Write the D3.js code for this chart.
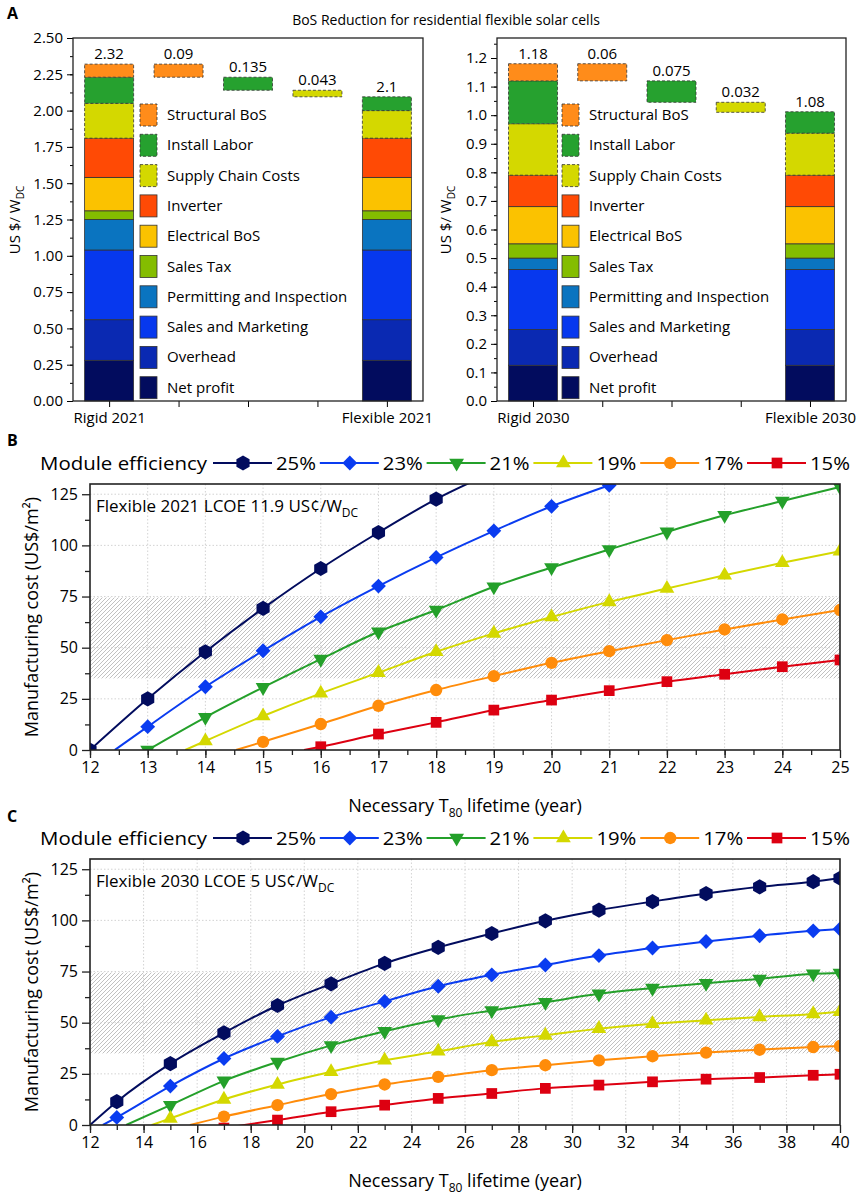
<!DOCTYPE html>
<html>
<head>
<meta charset="utf-8">
<script src="https://cdn.jsdelivr.net/npm/d3@7"></script>
<style>
  body { margin: 0; background: #fff; }
  svg { font-family: "Open Sans", sans-serif; }
</style>
</head>
<body>
<script>
// ---- panel A data ----
var segNames = ["Net profit", "Overhead", "Sales and Marketing", "Permitting and Inspection", "Sales Tax",
                "Electrical BoS", "Inverter", "Supply Chain Costs", "Install Labor", "Structural BoS"];
var segColors = ["#020c5e", "#0a29b2", "#0738ee", "#0a74c0", "#84bd00",
                 "#fbc200", "#ff4a05", "#d4d800", "#26a12f", "#ff8c1a"];
var dashedSegs = ["Supply Chain Costs", "Install Labor", "Structural BoS"];

var cats2021 = ["Rigid 2021", "r1", "r2", "r3", "Flexible 2021"];
var cats2030 = ["Rigid 2030", "s1", "s2", "s3", "Flexible 2030"];

var rigid2021 = [0.28, 0.28, 0.48, 0.21, 0.06, 0.23, 0.27, 0.24, 0.18, 0.09];
var flex2021  = [0.28, 0.28, 0.48, 0.21, 0.06, 0.23, 0.27, 0.19, 0.095, 0];
var drop2021 = [0.09, 0.09, 0.045];           // drawn heights of the reduction bars
var dropLabels2021 = ["0.09", "0.135", "0.043"];
var totalLabels2021 = ["2.32", "2.1"];

var rigid2030 = [0.125, 0.125, 0.21, 0.04, 0.05, 0.13, 0.11, 0.18, 0.15, 0.06];
var flex2030  = [0.125, 0.125, 0.21, 0.04, 0.05, 0.13, 0.11, 0.147, 0.075, 0];
var drop2030 = [0.06, 0.075, 0.035];
var dropLabels2030 = ["0.06", "0.075", "0.032"];
var totalLabels2030 = ["1.18", "1.08"];

// ---- panels B / C data ----
var effNames = ["25%", "23%", "21%", "19%", "17%", "15%"];
var effColors = ["#020c5e", "#0a3cf0", "#24a02a", "#d4d800", "#ff8c0a", "#dd0011"];
var effSymbols = ["hexagon", "diamond", "triangleDown", "triangle", "circle", "square"];
var costBand = [35, 74.5];

var b25 = [[12,0],[13,25],[14,48],[15,69.2],[16,88.7],[17,106.3],[18,122.6],[19,136]];
var b23 = [[12.43,0],[13,11.4],[14,30.9],[15,48.5],[16,65.1],[17,80.1],[18,94.1],[19,107.1],[20,119.1],[21,129.4]];
var b21 = [[13,0],[14,16],[15,30.6],[16,44.4],[17,57.8],[18,68.4],[19,79.8],[20,89.2],[21,98],[22,106.6],[23,114.7],[24,121.7],[25,128.6]];
var b19 = [[13.65,0],[14,4.4],[15,16.6],[16,27.7],[17,37.8],[18,48],[19,57],[20,65],[21,72.4],[22,78.9],[23,85.4],[24,91.5],[25,97.2]];
var b17 = [[14.53,0],[15,4],[16,12.7],[17,21.6],[18,29.3],[19,36.1],[20,42.6],[21,48.3],[22,53.7],[23,58.9],[24,63.8],[25,68.4]];
var b15 = [[15.71,0],[16,1.6],[17,7.8],[18,13.5],[19,19.5],[20,24.4],[21,29],[22,33.4],[23,37],[24,40.7],[25,44]];

var c25 = [[12,0],[13,11.4],[15,30],[17,45],[19,58.4],[21,69],[23,79],[25,86.8],[27,93.6],[29,99.8],[31,105],[33,109.2],[35,113.1],[37,116.4],[39,118.9],[40,120.6]];
var c23 = [[12.48,0],[13,3.7],[15,19],[17,32.5],[19,43.3],[21,52.7],[23,60.4],[25,67.8],[27,73.4],[29,78.2],[31,82.8],[33,86.5],[35,89.7],[37,92.5],[39,94.9],[40,95.8]];
var c21 = [[13.35,0],[15,9.7],[17,21.6],[19,30.8],[21,38.9],[23,45.8],[25,51.6],[27,56],[29,60],[31,64.1],[33,66.9],[35,69.3],[37,71.4],[39,73.9],[40,74.3]];
var c19 = [[14.3,0],[15,3.2],[17,12.5],[19,19.8],[21,26],[23,31.6],[25,36],[27,40.6],[29,43.8],[31,47.1],[33,49.5],[35,51.2],[37,52.8],[39,54.3],[40,55.3]];
var c17 = [[15.73,0],[17,4.1],[19,9.7],[21,15.1],[23,19.8],[25,23.5],[27,26.8],[29,29.2],[31,31.6],[33,33.6],[35,35.4],[37,36.8],[39,38.1],[40,38.6]];
var c15 = [[17,-1.5],[19,2.4],[21,6.5],[23,9.7],[25,13],[27,15.4],[29,17.9],[31,19.5],[33,21.1],[35,22.4],[37,23.2],[39,24.3],[40,24.8]];

var W = 859, H = 1197;
var svg = d3.select("body").append("svg").attr("width", W).attr("height", H);

// hatch pattern for the cost band
svg.append("defs").append("pattern")
    .attr("id", "hatch").attr("patternUnits", "userSpaceOnUse")
    .attr("width", 4).attr("height", 4)
  .append("path")
    .attr("d", "M-1,1 l2,-2 M0,4 l4,-4 M3,5 l2,-2")
    .attr("stroke", "#a6a6a6").attr("stroke-width", 0.7);

// ===================== panel A =====================
function bosPanel(o) {
  var x = d3.scalePoint().domain(o.cats).range([o.left, o.right]).padding(0.52);
  var y = d3.scaleLinear().domain([0, o.ymax]).range([401, 38]);
  var bw = 49;
  var g = svg.append("g");

  function seg(cx, y0, y1, i) {
    g.append("rect")
      .attr("x", cx - bw / 2).attr("width", bw)
      .attr("y", y(y1)).attr("height", y(y0) - y(y1))
      .attr("fill", segColors[i])
      .attr("stroke", "#333").attr("stroke-width", 0.8)
      .attr("stroke-dasharray", dashedSegs.indexOf(segNames[i]) >= 0 ? "3,2" : null);
  }

  var stacks = [[o.cats[0], o.rigid], [o.cats[4], o.flex]];
  stacks.forEach(function(s, k) {
    var acc = 0;
    s[1].forEach(function(v, i) {
      if (v <= 0) return;
      seg(x(s[0]), acc, acc + v, i);
      acc += v;
    });
    g.append("text").attr("x", x(s[0])).attr("y", y(acc) - 5)
      .attr("text-anchor", "middle").attr("font-size", 15).text(o.totals[k]);
  });

  // waterfall of reductions
  var level = d3.sum(o.rigid);
  o.drops.forEach(function(d, k) {
    var i = segNames.length - 1 - k;
    seg(x(o.cats[k + 1]), level - d, level, i);
    g.append("text").attr("x", x(o.cats[k + 1])).attr("y", y(level) - 5)
      .attr("text-anchor", "middle").attr("font-size", 15).text(o.dropLabels[k]);
    level -= d;
  });

  // axes
  var ay = g.append("g").attr("transform", "translate(" + o.left + ",0)")
    .call(d3.axisLeft(y).tickValues(d3.range(0, o.ymax + 1e-9, o.step)).tickFormat(d3.format(o.fmt)).tickSize(6).tickPadding(4));
  ay.select(".domain").remove();
  ay.selectAll("text").attr("font-size", 15).attr("font-family", "Open Sans");
  var aym = g.append("g").attr("transform", "translate(" + o.left + ",0)")
    .call(d3.axisLeft(y).tickValues(d3.range(0, o.ymax, o.minor)).tickFormat("").tickSize(3));
  aym.select(".domain").remove();

  var ax = g.append("g").attr("transform", "translate(0,401)")
    .call(d3.axisBottom(x).tickSize(6).tickPadding(5)
      .tickFormat(function(d, i) { return (i === 0 || i === 4) ? d : ""; }));
  ax.select(".domain").remove();
  ax.selectAll("text").attr("font-size", 15).attr("font-family", "Open Sans");

  g.append("rect").attr("x", o.left).attr("y", 38).attr("width", o.right - o.left).attr("height", 363)
    .attr("fill", "none").attr("stroke", "#222").attr("stroke-width", 1.3);

  // y label
  var yl = g.append("text").attr("transform", "translate(" + o.ylabX + ",220) rotate(-90)")
    .attr("text-anchor", "middle").attr("font-size", 15);
  yl.append("tspan").text("US $/ W");
  yl.append("tspan").attr("dy", 4).attr("font-size", 10).text("DC");

  // legend
  for (var r = 0; r < segNames.length; r++) {
    var i = segNames.length - 1 - r;
    var cy = 115 + r * 30.3;
    g.append("rect").attr("x", o.legX).attr("y", cy - 11).attr("width", 17).attr("height", 22)
      .attr("fill", segColors[i]).attr("stroke", "#333").attr("stroke-width", 0.8)
      .attr("stroke-dasharray", dashedSegs.indexOf(segNames[i]) >= 0 ? "3,2" : null);
    g.append("text").attr("x", o.legX + 27).attr("y", cy + 5).attr("font-size", 15).text(segNames[i]);
  }
}

bosPanel({ cats: cats2021, left: 73, right: 423, ymax: 2.5, step: 0.25, minor: 0.125, fmt: ".2f",
  rigid: rigid2021, flex: flex2021, drops: drop2021, dropLabels: dropLabels2021, totals: totalLabels2021,
  legX: 140, ylabX: 20 });
bosPanel({ cats: cats2030, left: 497, right: 846, ymax: 1.27, step: 0.1, minor: 0.05, fmt: ".1f",
  rigid: rigid2030, flex: flex2030, drops: drop2030, dropLabels: dropLabels2030, totals: totalLabels2030,
  legX: 562, ylabX: 451 });

svg.append("text").attr("x", 446).attr("y", 25).attr("text-anchor", "middle").attr("font-size", 14)
  .text("BoS Reduction for residential flexible solar cells");

// ===================== panels B, C =====================
var hexagon = {
  draw: function(ctx, size) {
    var r = Math.sqrt(size / 2.598);
    for (var k = 0; k < 6; k++) {
      var a = Math.PI / 2 + k * Math.PI / 3;
      if (k === 0) ctx.moveTo(r * Math.cos(a), r * Math.sin(a));
      else ctx.lineTo(r * Math.cos(a), r * Math.sin(a));
    }
    ctx.closePath();
  }
};
function marker(sel, kind, color) {
  var t = { hexagon: [hexagon, 150, 0], diamond: [d3.symbolSquare, 110, 45], triangleDown: [d3.symbolTriangle, 95, 180],
            triangle: [d3.symbolTriangle, 95, 0], circle: [d3.symbolCircle, 120, 0], square: [d3.symbolSquare, 115, 0] }[kind];
  sel.append("path").attr("d", d3.symbol().type(t[0]).size(t[1])())
    .attr("transform", "rotate(" + t[2] + ")")
    .attr("fill", color);
}

function effPanel(o) {
  var x = d3.scaleLinear().domain([12, o.xmax]).range([90, 840]);
  var y = d3.scaleLinear().domain([0, 130]).range([o.bottom, o.top]);
  var g = svg.append("g");
  var cid = "clip" + o.key;
  g.append("clipPath").attr("id", cid).append("rect")
    .attr("x", 90).attr("y", o.top).attr("width", 750).attr("height", o.bottom - o.top);

  g.append("rect").attr("x", x(12)).attr("width", x(o.xmax) - x(12))
    .attr("y", y(costBand[1])).attr("height", y(costBand[0]) - y(costBand[1]))
    .attr("fill", "url(#hatch)");

  var xt = d3.range(12, o.xmax + 0.001, o.xstep);
  var yt = d3.range(0, 126, 25);
  g.append("g").selectAll("line").data(xt.slice(1, -1)).join("line")
    .attr("x1", x).attr("x2", x).attr("y1", o.top).attr("y2", o.bottom)
    .attr("stroke", "#c8c8c8").attr("stroke-width", 0.8).attr("stroke-dasharray", "1.5,2");
  g.append("g").selectAll("line").data(yt.slice(1)).join("line")
    .attr("y1", y).attr("y2", y).attr("x1", 90).attr("x2", 840)
    .attr("stroke", "#c8c8c8").attr("stroke-width", 0.8).attr("stroke-dasharray", "1.5,2");

  var line = d3.line().x(function(d) { return x(d[0]); }).y(function(d) { return y(d[1]); }).curve(d3.curveMonotoneX);
  var plot = g.append("g").attr("clip-path", "url(#" + cid + ")");
  o.series.forEach(function(s, i) {
    plot.append("path").datum(s).attr("d", line).attr("fill", "none")
      .attr("stroke", effColors[i]).attr("stroke-width", 2);
  });
  o.series.forEach(function(s, i) {
    s.filter(function(d) { return o.mark(d[0]); }).forEach(function(d) {
      var m = plot.append("g").attr("transform", "translate(" + x(d[0]) + "," + y(d[1]) + ")");
      marker(m, effSymbols[i], effColors[i]);
    });
  });

  // axes
  var ax = g.append("g").attr("transform", "translate(0," + o.bottom + ")")
    .call(d3.axisBottom(x).tickValues(xt).tickFormat(d3.format("d")).tickSize(8).tickPadding(4));
  ax.select(".domain").remove();
  ax.selectAll("text").attr("font-size", 16).attr("font-family", "Open Sans");
  var axm = g.append("g").attr("transform", "translate(0," + o.bottom + ")")
    .call(d3.axisBottom(x).tickValues(d3.range(12, o.xmax, o.xstep / 2)).tickFormat("").tickSize(5));
  axm.select(".domain").remove();

  var ay = g.append("g").attr("transform", "translate(90,0)")
    .call(d3.axisLeft(y).tickValues(yt).tickSize(8).tickPadding(4));
  ay.select(".domain").remove();
  ay.selectAll("text").attr("font-size", 16).attr("font-family", "Open Sans");
  var aym = g.append("g").attr("transform", "translate(90,0)")
    .call(d3.axisLeft(y).tickValues(d3.range(12.5, 126, 25)).tickFormat("").tickSize(5));
  aym.select(".domain").remove();
  g.selectAll(".tick line").attr("stroke", "#222").attr("stroke-width", 1.3);

  g.append("rect").attr("x", 90).attr("y", o.top).attr("width", 750).attr("height", o.bottom - o.top)
    .attr("fill", "none").attr("stroke", "#222").attr("stroke-width", 1.6);

  // axis titles
  var xl = g.append("text").attr("x", 465).attr("y", o.bottom + 62).attr("text-anchor", "middle").attr("font-size", 18);
  xl.append("tspan").text("Necessary T");
  xl.append("tspan").attr("dy", 5).attr("font-size", 12).text("80");
  xl.append("tspan").attr("dy", -5).text(" lifetime (year)");
  g.append("text").attr("transform", "translate(38," + ((o.top + o.bottom) / 2) + ") rotate(-90)")
    .attr("text-anchor", "middle").attr("font-size", 18).text("Manufacturing cost (US$/m²)");

  // note
  var nt = g.append("text").attr("x", 96).attr("y", o.top + 28).attr("font-size", 17);
  nt.append("tspan").text(o.note);
  nt.append("tspan").attr("dy", 5).attr("font-size", 12).text("DC");

  // legend
  var ly = o.legendY;
  g.append("text").attr("x", 40).attr("y", ly + 7).attr("font-size", 19)
    .attr("textLength", 167).attr("lengthAdjust", "spacingAndGlyphs").text("Module efficiency");
  effNames.forEach(function(n, i) {
    var xs = 213 + i * 106.8;
    g.append("line").attr("x1", xs).attr("x2", xs + 59).attr("y1", ly).attr("y2", ly)
      .attr("stroke", effColors[i]).attr("stroke-width", 2.2);
    var m = g.append("g").attr("transform", "translate(" + (xs + 30) + "," + ly + ")");
    marker(m, effSymbols[i], effColors[i]);
    g.append("text").attr("x", xs + 63).attr("y", ly + 7).attr("font-size", 19)
      .attr("textLength", 40).attr("lengthAdjust", "spacingAndGlyphs").text(n);
  });
}

effPanel({ key: "B", top: 484, bottom: 750, xmax: 25, xstep: 1, legendY: 463,
  series: [b25, b23, b21, b19, b17, b15], mark: function(t) { return Number.isInteger(t); },
  note: "Flexible 2021 LCOE 11.9 US¢/W" });
effPanel({ key: "C", top: 859, bottom: 1125, xmax: 40, xstep: 2, legendY: 838,
  series: [c25, c23, c21, c19, c17, c15], mark: function(t) { return t === 40 || (Number.isInteger(t) && t % 2 === 1); },
  note: "Flexible 2030 LCOE 5 US¢/W" });

// panel letters
[["A", 19], ["B", 446], ["C", 822]].forEach(function(p) {
  svg.append("text").attr("x", 7).attr("y", p[1]).attr("font-size", 16).attr("font-weight", "bold").text(p[0]);
});
</script>
</body>
</html>
